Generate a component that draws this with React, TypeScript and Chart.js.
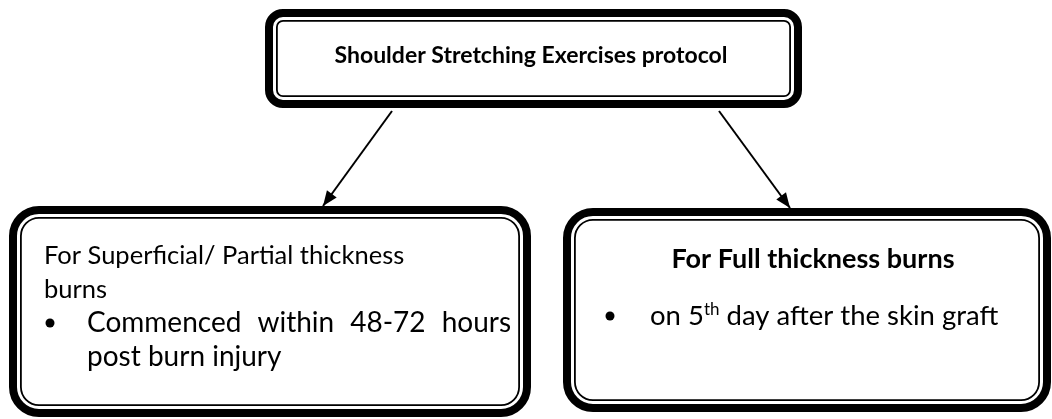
import React, { useEffect, useRef } from "react";
import { Chart, registerables } from "chart.js";
Chart.register(...registerables);

const W = 1052;
const H = 419;

// ---- content (data) ----
const nodeIds = ["root", "partial", "full"];
const nodeTitleLines: string[][] = [
  ["Shoulder Stretching Exercises protocol"],
  ["For Superficial/ Partial thickness", "burns"],
  ["For Full thickness burns"],
];
const nodeTitleBold = [true, false, true];
type Seg = { t: string; sup?: boolean };
const nodeBulletLines: Seg[][][] = [
  [],
  [[{ t: "Commenced within 48-72 hours" }], [{ t: "post burn injury" }]],
  [[{ t: "on 5" }, { t: "th", sup: true }, { t: " day after the skin graft" }]],
];
const edgeFrom = ["root", "root"];
const edgeTo = ["partial", "full"];

// ---- layout (positions / styles) ----
const layout: Record<string, any> = {
  root: { x0: 265, y0: 9, x1: 802, y1: 108, r: 18, align: "center", cx: 531, titleY: 63, size: 23, lineH: 34 },
  partial: { x0: 9, y0: 206, x1: 531, y1: 417, r: 30, align: "left", tx: 44, titleY: 264, size: 25.5, bulletSize: 28, lineH: 34, bulletX: 50, textX: 87, bulletY: 332, justifyTo: 511 },
  full: { x0: 563, y0: 208, x1: 1051, y1: 412, r: 30, align: "center", cx: 813, titleY: 268, size: 27, bulletSize: 27.5, lineH: 34, bulletX: 610, textX: 650, bulletY: 325 },
};
const edgeAnchors = [
  { from: [392, 111], to: [323, 206] },
  { from: [719, 111], to: [790, 208] },
];

const FONT = 'Lato, "Open Sans", sans-serif';

function rr(ctx: CanvasRenderingContext2D, x: number, y: number, w: number, h: number, r: number) {
  r = Math.max(1, Math.min(r, w / 2, h / 2));
  ctx.beginPath();
  ctx.moveTo(x + r, y);
  ctx.lineTo(x + w - r, y);
  ctx.arcTo(x + w, y, x + w, y + r, r);
  ctx.lineTo(x + w, y + h - r);
  ctx.arcTo(x + w, y + h, x + w - r, y + h, r);
  ctx.lineTo(x + r, y + h);
  ctx.arcTo(x, y + h, x, y + h - r, r);
  ctx.lineTo(x, y + r);
  ctx.arcTo(x, y, x + r, y, r);
  ctx.closePath();
}

const diagramPlugin = {
  id: "diagram",
  beforeDatasetsDraw(chart: any) {
    const { ctx, scales } = chart;
    const sx = scales.x, sy = scales.y;
    ctx.save();
    nodeIds.forEach((id) => {
      const b = layout[id];
      const x0 = sx.getPixelForValue(b.x0), x1 = sx.getPixelForValue(b.x1);
      const y0 = sy.getPixelForValue(b.y0), y1 = sy.getPixelForValue(b.y1);
      const thick = 8, gap = 3, thin = 1.8;
      rr(ctx, x0, y0, x1 - x0, y1 - y0, b.r);
      ctx.fillStyle = "#fff";
      ctx.fill();
      ctx.strokeStyle = "#000";
      ctx.lineWidth = thick;
      rr(ctx, x0 + thick / 2, y0 + thick / 2, x1 - x0 - thick, y1 - y0 - thick, b.r - thick / 2);
      ctx.stroke();
      const ins = thick + gap + thin / 2;
      ctx.lineWidth = thin;
      rr(ctx, x0 + ins, y0 + ins, x1 - x0 - 2 * ins, y1 - y0 - 2 * ins, b.r - ins);
      ctx.stroke();
    });
    ctx.restore();
  },
  afterDatasetsDraw(chart: any) {
    const { ctx, scales } = chart;
    const sx = scales.x, sy = scales.y;
    ctx.save();
    // arrow heads
    chart.data.datasets.forEach((ds: any) => {
      const d = ds.data;
      const a = d[d.length - 2], e = d[d.length - 1];
      const px = sx.getPixelForValue(e.x), py = sy.getPixelForValue(e.y);
      const qx = sx.getPixelForValue(a.x), qy = sy.getPixelForValue(a.y);
      const ang = Math.atan2(py - qy, px - qx);
      const L = 15, Wd = 6;
      ctx.beginPath();
      ctx.moveTo(px, py);
      ctx.lineTo(px - L * Math.cos(ang) + Wd * Math.sin(ang), py - L * Math.sin(ang) - Wd * Math.cos(ang));
      ctx.lineTo(px - L * Math.cos(ang) - Wd * Math.sin(ang), py - L * Math.sin(ang) + Wd * Math.cos(ang));
      ctx.closePath();
      ctx.fillStyle = "#000";
      ctx.fill();
    });
    // text
    ctx.fillStyle = "#000";
    ctx.textBaseline = "alphabetic";
    nodeIds.forEach((id, i) => {
      const b = layout[id];
      const size = b.size;
      ctx.font = `${nodeTitleBold[i] ? "bold " : ""}${size}px ${FONT}`;
      nodeTitleLines[i].forEach((line, k) => {
        const y = sy.getPixelForValue(b.titleY + k * b.lineH);
        if (b.align === "center") {
          ctx.textAlign = "center";
          ctx.fillText(line, sx.getPixelForValue(b.cx), y);
        } else {
          ctx.textAlign = "left";
          ctx.fillText(line, sx.getPixelForValue(b.tx), y);
        }
      });
      const bs = b.bulletSize || size;
      const lines = nodeBulletLines[i];
      lines.forEach((segs, k) => {
        const y = sy.getPixelForValue(b.bulletY + k * b.lineH);
        if (k === 0) {
          ctx.beginPath();
          ctx.arc(sx.getPixelForValue(b.bulletX), y - 9, 4.5, 0, Math.PI * 2);
          ctx.fill();
        }
        let x = sx.getPixelForValue(b.textX);
        ctx.textAlign = "left";
        if (b.justifyTo && k < lines.length - 1 && segs.length === 1) {
          // justified line (all but last line of the paragraph)
          ctx.font = `${bs}px ${FONT}`;
          const words = segs[0].t.split(" ");
          const widths = words.map((w) => ctx.measureText(w).width);
          const total = widths.reduce((s, v) => s + v, 0);
          const right = sx.getPixelForValue(b.justifyTo);
          const gap = (right - x - total) / Math.max(1, words.length - 1);
          words.forEach((w, j) => {
            ctx.fillText(w, x, y);
            x += widths[j] + gap;
          });
          return;
        }
        segs.forEach((s) => {
          if (s.sup) {
            ctx.font = `${Math.round(bs * 0.6)}px ${FONT}`;
            ctx.fillText(s.t, x, y - bs * 0.38);
          } else {
            ctx.font = `${bs}px ${FONT}`;
            ctx.fillText(s.t, x, y);
          }
          x += ctx.measureText(s.t).width;
        });
      });
    });
    ctx.restore();
  },
};

export default function App() {
  const ref = useRef<HTMLCanvasElement | null>(null);
  useEffect(() => {
    if (!ref.current) return;
    const datasets = edgeFrom.map((f, i) => ({
      label: `${f}->${edgeTo[i]}`,
      data: [
        { x: edgeAnchors[i].from[0], y: edgeAnchors[i].from[1] },
        { x: edgeAnchors[i].to[0], y: edgeAnchors[i].to[1] },
      ],
      showLine: true,
      borderColor: "#000",
      borderWidth: 2,
      pointRadius: 0,
      fill: false,
    }));
    const chart = new Chart(ref.current, {
      type: "scatter",
      data: { datasets },
      options: {
        responsive: false,
        animation: false,
        events: [],
        layout: { padding: 0 },
        plugins: { legend: { display: false }, tooltip: { enabled: false } },
        scales: {
          x: { type: "linear", min: 0, max: W, display: false },
          y: { type: "linear", min: 0, max: H, reverse: true, display: false },
        },
      },
      plugins: [diagramPlugin],
    } as any);
    return () => chart.destroy();
  }, []);
  return (
    <div style={{ position: "absolute", left: 0, top: 0, width: W, height: H, background: "#fff" }}>
      <canvas ref={ref} width={W} height={H} style={{ display: "block", width: W, height: H }} />
    </div>
  );
}
